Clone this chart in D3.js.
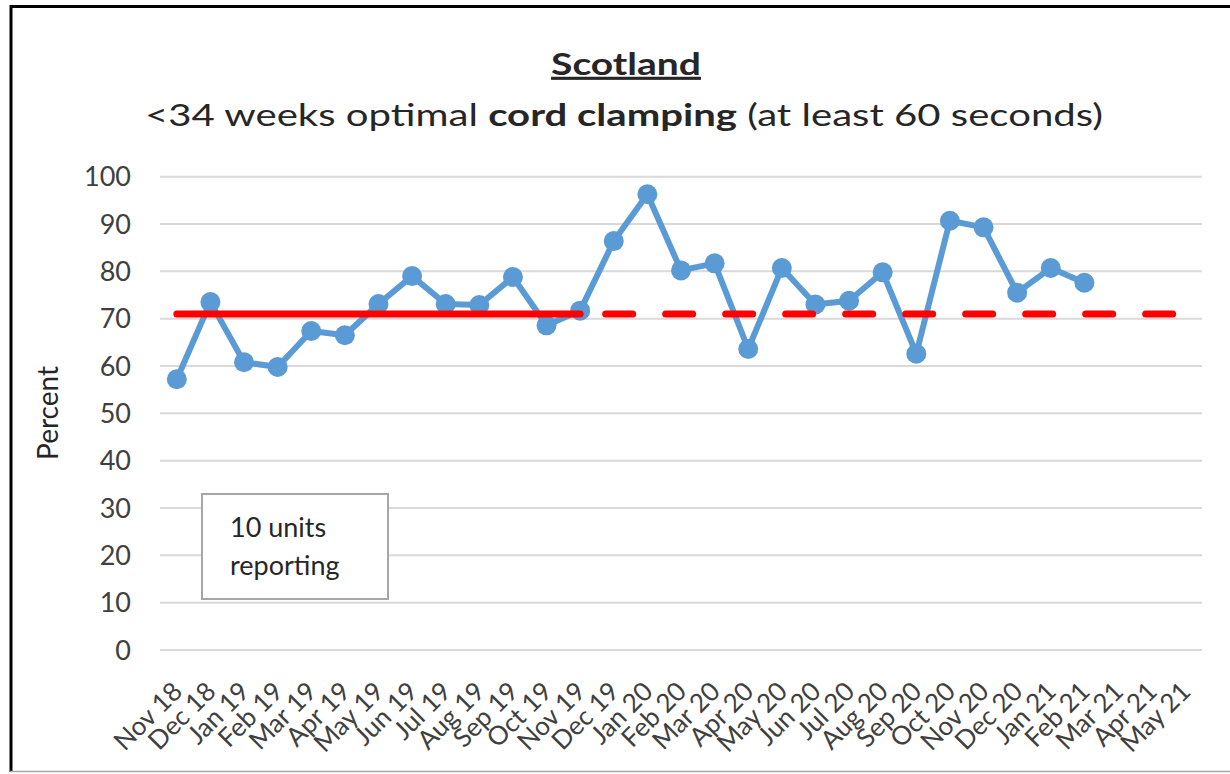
<!DOCTYPE html>
<html>
<head>
<meta charset="utf-8">
<script src="https://cdn.jsdelivr.net/npm/d3@7"></script>
<style>
    body { margin: 0; background: #fff; }
    svg { display: block; font-family: Lato, "Open Sans", sans-serif; }
</style>
</head>
<body>
<div id="chart"></div>
<script>
// Month categories on the x axis
const months = ['Nov 18', 'Dec 18', 'Jan 19', 'Feb 19', 'Mar 19', 'Apr 19', 'May 19', 'Jun 19',
    'Jul 19', 'Aug 19', 'Sep 19', 'Oct 19', 'Nov 19', 'Dec 19', 'Jan 20', 'Feb 20', 'Mar 20',
    'Apr 20', 'May 20', 'Jun 20', 'Jul 20', 'Aug 20', 'Sep 20', 'Oct 20', 'Nov 20', 'Dec 20',
    'Jan 21', 'Feb 21', 'Mar 21', 'Apr 21', 'May 21'];

// Percent with optimal cord clamping (Nov 18 - Feb 21)
const percent = [57.2, 73.5, 60.8, 59.8, 67.4, 66.5, 73.1, 79.0, 73.1, 72.9, 78.8, 68.6, 71.7,
    86.4, 96.3, 80.2, 81.7, 63.6, 80.7, 73.0, 73.8, 79.8, 62.6, 90.7, 89.3, 75.5, 80.7, 77.6];

// Median: baseline period (solid) and extended (dashed)
const medianValue = 71;
const baselineMonths = months.slice(0, 13);
const extendedMonths = months.slice(12);

const yTicks = [0, 10, 20, 30, 40, 50, 60, 70, 80, 90, 100];

const W = 1230, H = 774;
const plot = { left: 160, right: 1202, top: 176.7, bottom: 650 };

const svg = d3.select('#chart').append('svg')
    .attr('width', W)
    .attr('height', H);

// Frame
svg.append('line').attr('x1', 11).attr('x2', 11).attr('y1', 5).attr('y2', 772)
    .attr('stroke', '#000').attr('stroke-width', 3);
svg.append('line').attr('x1', 10).attr('x2', W).attr('y1', 6.5).attr('y2', 6.5)
    .attr('stroke', '#000').attr('stroke-width', 3);
svg.append('line').attr('x1', 10).attr('x2', W).attr('y1', 771.5).attr('y2', 771.5)
    .attr('stroke', '#a6a6a6').attr('stroke-width', 1.5);

// Scales
const x = d3.scaleBand().domain(months).range([plot.left, plot.right]);
const cx = m => x(m) + x.bandwidth() / 2;
const y = d3.scaleLinear().domain([0, 100]).range([plot.bottom, plot.top]);

// Gridlines
svg.append('g').selectAll('line').data(yTicks).enter().append('line')
    .attr('x1', plot.left).attr('x2', plot.right)
    .attr('y1', d => y(d)).attr('y2', d => y(d))
    .attr('stroke', '#d9d9d9').attr('stroke-width', 2);

// Y tick labels
svg.append('g').selectAll('text').data(yTicks).enter().append('text')
    .attr('x', 131).attr('y', d => y(d)).attr('dy', '0.36em')
    .attr('text-anchor', 'end')
    .attr('font-size', 27).attr('fill', '#404040')
    .text(d => d);

// Y axis title
svg.append('text')
    .attr('transform', 'translate(58,413) rotate(-90)')
    .attr('text-anchor', 'middle')
    .attr('font-size', 28).attr('fill', '#262626')
    .text('Percent');

// X tick labels, rotated
svg.append('g').selectAll('text').data(months).enter().append('text')
    .attr('transform', d => `translate(${cx(d) + 7},693) rotate(-45)`)
    .attr('text-anchor', 'end')
    .attr('font-size', 26).attr('fill', '#404040')
    .text(d => d);

// Text box
svg.append('rect')
    .attr('x', 202).attr('y', 494).attr('width', 186).attr('height', 105)
    .attr('fill', '#fff').attr('stroke', '#a6a6a6').attr('stroke-width', 2);
svg.append('text').attr('x', 230).attr('y', 537)
    .attr('font-size', 27).attr('fill', '#262626').text('10 units');
svg.append('text').attr('x', 230).attr('y', 575)
    .attr('font-size', 27).attr('fill', '#262626').text('reporting');

// Data line
const line = d3.line().x((d, i) => cx(months[i])).y(d => y(d));
svg.append('path')
    .datum(percent)
    .attr('fill', 'none')
    .attr('stroke', '#5b9bd5')
    .attr('stroke-width', 6)
    .attr('stroke-linejoin', 'round')
    .attr('d', line);

svg.append('g').selectAll('circle').data(percent).enter().append('circle')
    .attr('cx', (d, i) => cx(months[i]))
    .attr('cy', d => y(d))
    .attr('r', 10)
    .attr('fill', '#5b9bd5');

// Median lines (drawn on top)
const medLine = d3.line().x(m => cx(m)).y(() => y(medianValue));
svg.append('path')
    .datum(baselineMonths)
    .attr('fill', 'none')
    .attr('stroke', '#ff0000')
    .attr('stroke-width', 7)
    .attr('stroke-linecap', 'round')
    .attr('d', medLine);
svg.append('path')
    .datum(extendedMonths)
    .attr('fill', 'none')
    .attr('stroke', '#ff0000')
    .attr('stroke-width', 7)
    .attr('stroke-linecap', 'round')
    .attr('stroke-dasharray', '27,33')
    .attr('stroke-dashoffset', 34.5)
    .attr('d', medLine);

// Titles, stretched horizontally to the reference width
function fitText(sel, centerX, baseY, targetWidth) {
    const w = sel.node().getBBox().width;
    sel.attr('transform', `translate(${centerX},${baseY}) scale(${targetWidth / w},1)`);
}

const title = svg.append('text')
    .attr('text-anchor', 'middle')
    .attr('font-size', 31).attr('font-weight', 'bold').attr('fill', '#262626')
    .style('text-decoration', 'underline')
    .text('Scotland');
fitText(title, 626, 75, 150);

const sub = svg.append('text')
    .attr('text-anchor', 'middle')
    .attr('font-size', 30).attr('fill', '#262626');
sub.append('tspan').text('<34 weeks optimal ');
sub.append('tspan').attr('font-weight', 'bold').text('cord clamping');
sub.append('tspan').text(' (at least 60 seconds)');
fitText(sub, 624, 126, 958);
</script>
</body>
</html>
